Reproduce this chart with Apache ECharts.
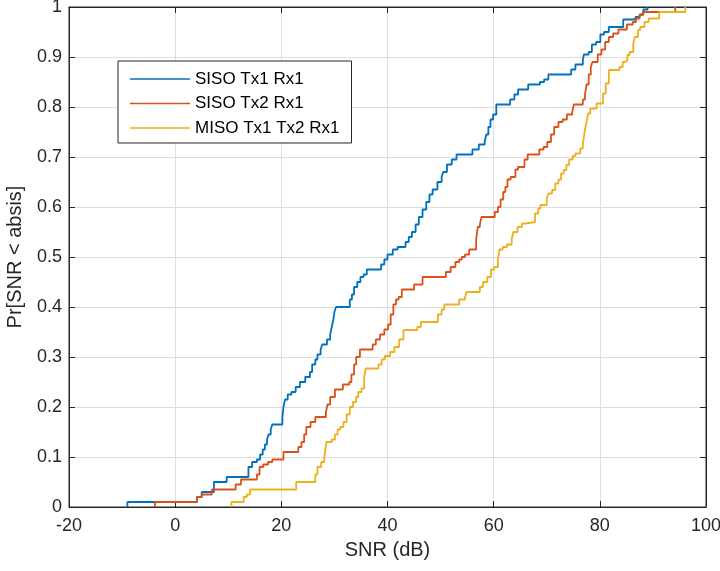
<!DOCTYPE html>
<html>
<head>
<meta charset="utf-8">
<script src="https://cdn.jsdelivr.net/npm/echarts@6/dist/echarts.min.js"></script>
<style>
  html, body { margin: 0; padding: 0; background: #ffffff; }
  #chart { width: 720px; height: 571px; }
</style>
</head>
<body>
<div id="chart"></div>
<script>
// Empirical CDF of SNR for the three antenna configurations.
// Each pair is [SNR (dB), cumulative probability after the step].
const sisoTx1Rx1 = [
  [-9, 0], [-9, 0.01], [4.1, 0.02], [5.0, 0.03], [7.3, 0.05], [9.7, 0.06], [13.8, 0.08], [14.5, 0.09],
  [15.4, 0.095], [16.0, 0.105], [16.5, 0.115], [16.9, 0.125], [17.3, 0.135], [17.6, 0.145], [18.0, 0.155],
  [18.3, 0.165], [20.2, 0.18], [20.4, 0.2], [20.7, 0.215], [21.2, 0.225], [21.9, 0.23], [22.7, 0.24],
  [23.5, 0.25], [24.5, 0.26], [25.4, 0.27], [25.8, 0.285], [26.4, 0.295], [26.8, 0.305], [27.4, 0.315],
  [27.7, 0.325], [28.6, 0.335], [29.2, 0.345], [29.5, 0.36], [29.8, 0.375], [30.0, 0.39], [30.3, 0.4],
  [32.9, 0.415], [33.3, 0.425], [33.7, 0.44], [34.3, 0.45], [34.9, 0.46], [35.5, 0.465], [36.1, 0.475],
  [38.8, 0.485], [39.4, 0.495], [40.0, 0.505], [41.0, 0.515], [41.9, 0.52], [43.4, 0.53], [44.0, 0.54],
  [44.6, 0.55], [45.3, 0.565], [45.9, 0.58], [46.6, 0.595], [47.3, 0.61], [47.9, 0.625], [48.5, 0.635],
  [49.4, 0.65], [50.2, 0.66], [50.5, 0.67], [51.2, 0.685], [52.1, 0.695], [53.0, 0.705], [56.0, 0.715],
  [57.2, 0.725], [58.3, 0.73], [58.6, 0.745], [59.0, 0.76], [59.4, 0.775], [59.9, 0.785], [60.5, 0.805],
  [63.1, 0.815], [63.9, 0.825], [64.6, 0.835], [66.5, 0.845], [68.7, 0.85], [69.5, 0.855], [70.3, 0.865],
  [74.6, 0.875], [75.4, 0.885], [76.8, 0.895], [77.0, 0.905], [77.9, 0.91], [78.5, 0.925], [79.3, 0.93],
  [80.1, 0.945], [80.8, 0.95], [81.7, 0.96], [84.4, 0.975], [86.7, 0.98], [87.5, 0.985], [88.2, 0.995],
  [89.0, 1]
];

const sisoTx2Rx1 = [
  [-3.8, 0], [-3.8, 0.01], [4.1, 0.02], [5.0, 0.025], [6.9, 0.035], [11.4, 0.045], [12.4, 0.055],
  [15.4, 0.065], [15.9, 0.08], [16.6, 0.085], [17.5, 0.09], [18.3, 0.095], [20.4, 0.11], [23.2, 0.12],
  [23.8, 0.13], [24.3, 0.145], [24.7, 0.16], [25.5, 0.17], [26.4, 0.18], [28.4, 0.19], [28.7, 0.205],
  [29.2, 0.22], [30.1, 0.235], [31.6, 0.245], [32.8, 0.25], [33.2, 0.265], [33.7, 0.285], [34.1, 0.3],
  [34.8, 0.315], [37.2, 0.325], [37.8, 0.335], [38.6, 0.345], [39.4, 0.355], [40.1, 0.365], [40.6, 0.385],
  [41.1, 0.405], [41.6, 0.415], [42.1, 0.42], [42.7, 0.435], [45.0, 0.445], [46.6, 0.46], [51.0, 0.47],
  [51.9, 0.48], [52.8, 0.49], [53.5, 0.495], [54.0, 0.5], [54.6, 0.505], [55.4, 0.515], [56.7, 0.535],
  [57.0, 0.56], [57.4, 0.565], [57.7, 0.58], [60.2, 0.59], [60.8, 0.6], [61.3, 0.615], [61.8, 0.63],
  [62.2, 0.64], [62.6, 0.655], [63.2, 0.66], [64.1, 0.675], [64.6, 0.68], [65.8, 0.695], [66.4, 0.705],
  [68.6, 0.715], [69.4, 0.72], [70.1, 0.73], [70.8, 0.745], [71.4, 0.76], [72.2, 0.77], [73.0, 0.775],
  [73.8, 0.785], [74.8, 0.79], [75.1, 0.805], [76.8, 0.815], [77.2, 0.825], [77.5, 0.845], [77.9, 0.865],
  [78.3, 0.88], [78.6, 0.89], [79.6, 0.905], [80.3, 0.915], [81.0, 0.93], [81.7, 0.94], [82.5, 0.947],
  [83.5, 0.955], [85.1, 0.965], [86.2, 0.97], [86.8, 0.977], [87.5, 0.984], [88.1, 0.99], [94.2, 1]
];

const misoTx1Tx2Rx1 = [
  [10.6, 0], [10.6, 0.01], [12.9, 0.02], [13.5, 0.025], [14.1, 0.035], [22.8, 0.05], [26.4, 0.065],
  [26.8, 0.08], [27.5, 0.09], [28.1, 0.1], [28.3, 0.115], [28.5, 0.13], [29.5, 0.135], [30.1, 0.145],
  [30.6, 0.155], [31.1, 0.16], [31.7, 0.17], [32.3, 0.185], [32.9, 0.2], [33.5, 0.21], [34.1, 0.22],
  [34.5, 0.23], [35.1, 0.237], [35.6, 0.26], [35.9, 0.277], [38.3, 0.285], [38.9, 0.295], [39.5, 0.302],
  [40.5, 0.31], [41.3, 0.32], [42.2, 0.335], [43.0, 0.354], [45.6, 0.36], [46.3, 0.37], [49.5, 0.385],
  [50.2, 0.395], [50.7, 0.405], [53.5, 0.415], [54.6, 0.42], [54.9, 0.43], [57.4, 0.44], [58.0, 0.45],
  [58.8, 0.46], [59.5, 0.475], [60.1, 0.48], [60.8, 0.495], [61.1, 0.515], [61.7, 0.52], [62.5, 0.525],
  [63.4, 0.535], [63.7, 0.55], [64.5, 0.56], [65.3, 0.567], [66.0, 0.57], [67.8, 0.587], [68.4, 0.597],
  [68.8, 0.604], [70.0, 0.617], [70.3, 0.627], [71.0, 0.634], [71.6, 0.647], [72.2, 0.655], [72.7, 0.667],
  [73.2, 0.674], [73.7, 0.684], [74.2, 0.695], [74.9, 0.702], [75.4, 0.707], [76.3, 0.717], [76.8, 0.727],
  [77.0, 0.74], [77.2, 0.755], [77.5, 0.77], [77.8, 0.787], [78.2, 0.797], [79.4, 0.807], [80.6, 0.827],
  [81.1, 0.847], [81.7, 0.874], [83.7, 0.88], [84.3, 0.89], [84.8, 0.894], [85.2, 0.904], [85.6, 0.91],
  [86.3, 0.927], [86.6, 0.94], [87.2, 0.954], [87.6, 0.96], [88.4, 0.97], [89.2, 0.977], [91.2, 0.99],
  [96.1, 1]
];

const seriesNames = ['SISO Tx1 Rx1', 'SISO Tx2 Rx1', 'MISO Tx1 Tx2 Rx1'];
const seriesColors = ['#0072BD', '#D95319', '#EDB120'];
const xTicks = { min: -20, max: 100, step: 20 };
const yTicks = { min: 0, max: 1, step: 0.1 };
const xTitle = 'SNR (dB)';
const yTitle = 'Pr[SNR < absis]';

const FONT = '"Liberation Sans", Arial, Helvetica, sans-serif';
const INK = '#262626';
const GRID_LINE = '#dedede';

const chart = echarts.init(document.getElementById('chart'), null, { renderer: 'canvas' });

const tickLabel = { color: INK, fontFamily: FONT, fontSize: 18 };

const yFormat = v => (Math.abs(v) < 1e-9 ? '0' : Math.abs(v - 1) < 1e-9 ? '1' : v.toFixed(1));

// inward ticks on all four sides of the box
const boxTick = { show: true, inside: true, length: 6, lineStyle: { color: INK } };

const option = {
  backgroundColor: '#ffffff',
  animation: false,
  grid: {
    left: 69, right: 14, top: 7, bottom: 64,
    outerBoundsMode: 'none',
    containLabel: false,
    show: true, borderColor: INK, borderWidth: 1, backgroundColor: 'transparent'
  },
  legend: {
    orient: 'vertical',
    left: 118, top: 61,
    icon: 'rect',
    itemWidth: 60, itemHeight: 1.5,
    itemGap: 6.5,
    padding: [9, 12, 6, 12],
    backgroundColor: '#ffffff',
    borderColor: INK, borderWidth: 1, borderRadius: 0,
    textStyle: { color: '#000000', fontFamily: FONT, fontSize: 17, lineHeight: 18 },
    data: seriesNames
  },
  xAxis: [
    {
      type: 'value', min: xTicks.min, max: xTicks.max, interval: xTicks.step,
      name: xTitle, nameLocation: 'middle', nameGap: 33,
      nameTextStyle: { color: INK, fontFamily: FONT, fontSize: 20 },
      axisLine: { onZero: false, lineStyle: { color: INK } },
      axisTick: boxTick,
      axisLabel: Object.assign({ margin: 10 }, tickLabel),
      splitLine: { show: true, lineStyle: { color: GRID_LINE } }
    },
    {
      type: 'value', position: 'top', min: xTicks.min, max: xTicks.max, interval: xTicks.step,
      axisLine: { show: true, onZero: false, lineStyle: { color: INK } },
      axisTick: boxTick,
      axisLabel: { show: false }, splitLine: { show: false }
    }
  ],
  yAxis: [
    {
      type: 'value', min: yTicks.min, max: yTicks.max, interval: yTicks.step,
      name: yTitle, nameLocation: 'middle', nameGap: 44, nameRotate: 90,
      nameTextStyle: { color: INK, fontFamily: FONT, fontSize: 20 },
      axisLine: { show: true, onZero: false, lineStyle: { color: INK } },
      axisTick: boxTick,
      axisLabel: Object.assign({ margin: 7, formatter: yFormat }, tickLabel),
      splitLine: { show: true, lineStyle: { color: GRID_LINE } }
    },
    {
      type: 'value', position: 'right', min: yTicks.min, max: yTicks.max, interval: yTicks.step,
      axisLine: { show: true, onZero: false, lineStyle: { color: INK } },
      axisTick: boxTick,
      axisLabel: { show: false }, splitLine: { show: false }
    }
  ],
  series: [sisoTx1Rx1, sisoTx2Rx1, misoTx1Tx2Rx1].map((data, i) => ({
    name: seriesNames[i],
    type: 'line',
    step: 'end',
    data: data,
    xAxisIndex: 0, yAxisIndex: 0,
    showSymbol: false, symbol: 'none',
    color: seriesColors[i],
    lineStyle: { color: seriesColors[i], width: 1.8 },
    z: 2 + i
  }))
};

chart.setOption(option);
</script>
</body>
</html>
